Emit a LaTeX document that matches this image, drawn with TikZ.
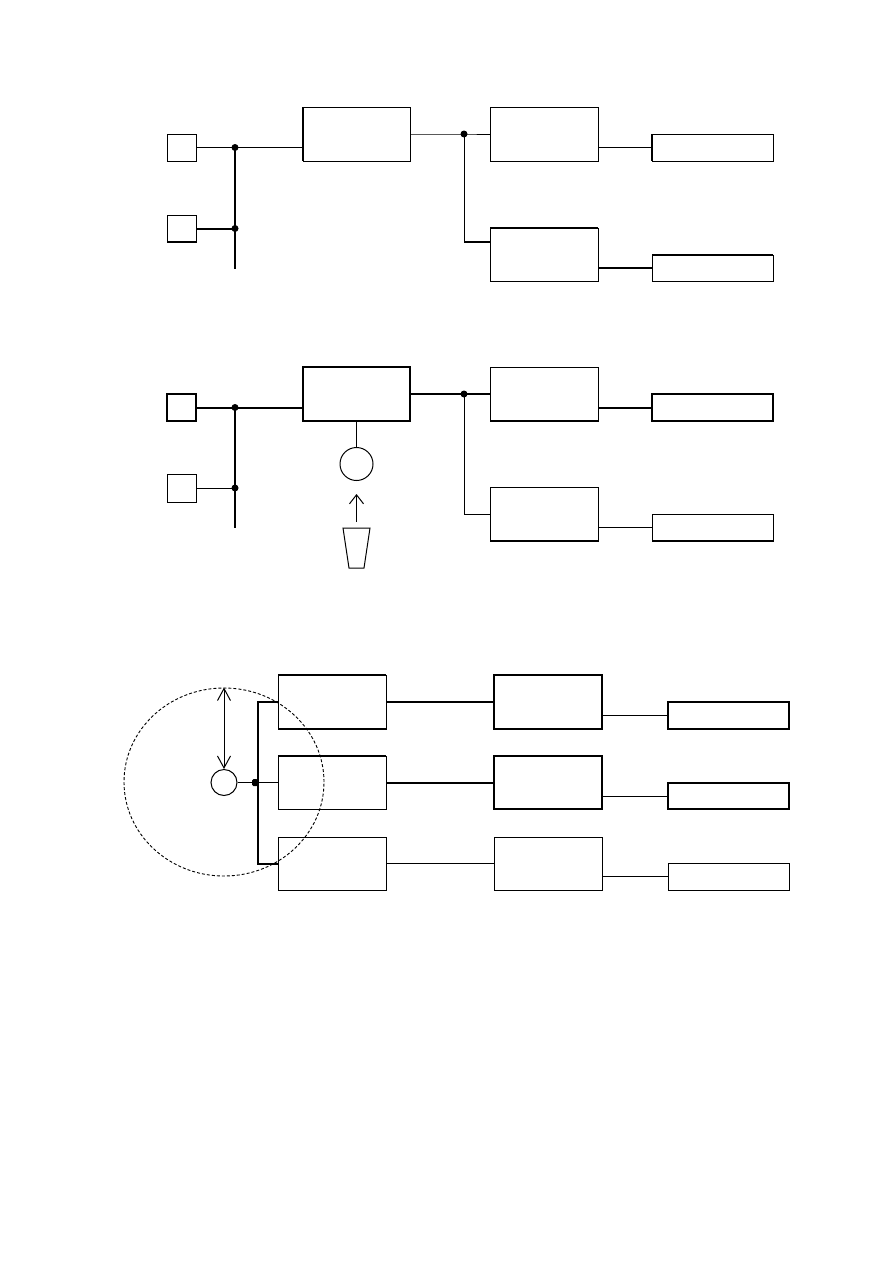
\documentclass[tikz,border=0pt]{standalone}
\usetikzlibrary{arrows.meta,fit,calc,shapes.geometric}
\begin{document}
\begin{tikzpicture}[x=1pt,y=-1pt,
  thinln/.style={line width=1pt},
  thickln/.style={line width=2pt},
  box/.style={draw, line width=1pt, rectangle, inner sep=0pt, outer sep=0pt},
  tbox/.style={box, line width=2pt},
  dot/.style={circle, fill, inner sep=0pt, minimum size=7pt},
  barb/.style={-{Straight Barb[length=9pt,width=14pt]}},
  dbarb/.style={{Straight Barb[length=12pt,width=13pt]}-{Straight Barb[length=12pt,width=13pt]}}]
\useasboundingbox (0,0) rectangle (893,1263);

% ---------- Diagram 1 ----------
\node[box, fit={(167,134) (196,161)}] (a1) {};
\node[box, fit={(167,215) (196,242)}] (a2) {};
\node[box, fit={(303,107) (410,161)}] (b1) {};
\node[box, fit={(490,107) (598,161)}] (c1) {};
\node[box, fit={(490,228) (598,281)}] (c2) {};
\node[box, fit={(652,134) (773,161)}] (d1) {};
\node[box, fit={(652,255) (773,281)}] (d2) {};
\draw[thickln] (a2.south west) -- (a2.south east);
\draw[thickln] (b1.north west) -- (b1.south west);
\draw[thickln] (c2.north west) -- (c2.north east);
\draw[thickln] (d1.north west) -- (d1.south west);
\draw[thickln] (d2.north west) -- (d2.north east);
\coordinate (j1) at (235,147.5);
\coordinate (j2) at (235,228.5);
\coordinate (j3) at (235,269);
\coordinate (k1) at (464,134);
\coordinate (k2) at (464,242);
\draw[thinln] (a1.east) -- (j1) -- (b1.west |- j1);
\draw[thickln] (j1) -- (j3);
\draw[thickln] (a2.east) -- (j2);
\draw[thinln] (b1.east) -- (k1) -- (c1.west);
\draw[thinln] (k1) -- (k2);
\draw[thickln] (k2) -- (c2.west |- k2);
\draw[thinln] (c1.east |- d1) -- (d1.west);
\draw[thickln] (c2.east |- d2) -- (d2.west);
\node[dot] at (j1) {};
\node[dot] at (j2) {};
\node[dot] at (k1) {};

% ---------- Diagram 2 ----------
\node[tbox, fit={(167,394) (196,421)}] (a3) {};
\node[box, fit={(167,474) (196,502)}] (a4) {};
\node[tbox, fit={(303,367) (410,421)}] (b2) {};
\node[box, fit={(490,367) (598,421)}] (c3) {};
\node[box, fit={(490,487) (598,541)}] (c4) {};
\node[tbox, fit={(652,394) (773,421)}] (d3) {};
\node[box, fit={(652,514) (773,541)}] (d4) {};
\draw[thickln] (c3.south west) -- (c3.south east);
\draw[thickln] (c4.south west) -- (c4.south east);
\draw[thickln] (d4.south west) -- (d4.south east);
\coordinate (j4) at (235,407.5);
\coordinate (j5) at (235,488);
\coordinate (j6) at (235,528);
\coordinate (k3) at (464,394);
\coordinate (k4) at (464,514);
\draw[thickln] (a3.east) -- (j4) -- (b2.west |- j4);
\draw[thickln] (j4) -- (j6);
\draw[thinln] (a4.east) -- (j5);
\draw[thickln] (b2.east) -- (k3) -- (c3.west);
\draw[thinln] (k3) -- (k4) -- (c4.west);
\draw[thickln] (c3.east |- d3) -- (d3.west);
\draw[thinln] (c4.east |- d4) -- (d4.west);
\node[dot] at (j4) {};
\node[dot] at (j5) {};
\node[dot] at (k3) {};
\node[draw, thinln, circle, minimum size=33pt, inner sep=0pt] (o1) at (356.5,464) {};
\draw[thinln] (b2.south) -- (o1.north);
\coordinate (t1) at (356.5,528);
\draw[thinln] (343,528) -- (370,528) -- (364,568) -- (349,568) -- cycle;
\coordinate (p1) at (356.5,522);
\coordinate (p2) at (356.5,494);
\draw[thinln, barb] (p1) -- (p2);

% ---------- Diagram 3 ----------
\node[draw, ellipse, line width=0.9pt, dash pattern=on 3pt off 2pt, inner sep=0pt,
      minimum width=200pt, minimum height=188pt] (zone) at (224,782) {};
\node[box, fit={(278,675) (386,729)}] (e1) {};
\node[box, fit={(278,756) (386,809)}] (e2) {};
\node[box, fit={(278,837) (386,890)}] (e3) {};
\node[tbox, fit={(494,675) (602,729)}] (f1) {};
\node[tbox, fit={(494,756) (602,809)}] (f2) {};
\node[box, fit={(494,837) (602,890)}] (f3) {};
\node[tbox, fit={(668,702) (789,729)}] (g1) {};
\node[tbox, fit={(668,783) (789,809)}] (g2) {};
\node[box, fit={(668,863) (789,890)}] (g3) {};
\draw[thickln] (e1.north west) -- (e1.north east);
\draw[thickln] (e1.south west) -- (e1.south east);
\draw[thickln] (e2.north west) -- (e2.north east);
\coordinate (m1) at (258,702);
\coordinate (m3) at (258,863.5);
\draw[thickln] (e1.west) -- (m1) -- (m3) -- (e3.west);
\node[draw, thinln, circle, minimum size=26pt, inner sep=0pt] (o2) at (224,782.5) {};
\draw[thinln] (o2.east) -- (e2.west);
\node[fill, rectangle, rounded corners=1.5pt, minimum width=6pt, minimum height=7pt, inner sep=0pt] (n1) at (255,782.5) {};
\coordinate (q1) at (224,687.5);
\draw[thinln, dbarb] (q1) -- (o2.north);
\draw[thickln] (e1.east) -- (f1.west);
\draw[thickln] (e2.east) -- (f2.west);
\draw[thinln] (e3.east) -- (f3.west);
\draw[thinln] (f1.east |- g1) -- (g1.west);
\draw[thinln] (f2.east |- g2) -- (g2.west);
\draw[thinln] (f3.east |- g3) -- (g3.west);
\end{tikzpicture}
\end{document}
